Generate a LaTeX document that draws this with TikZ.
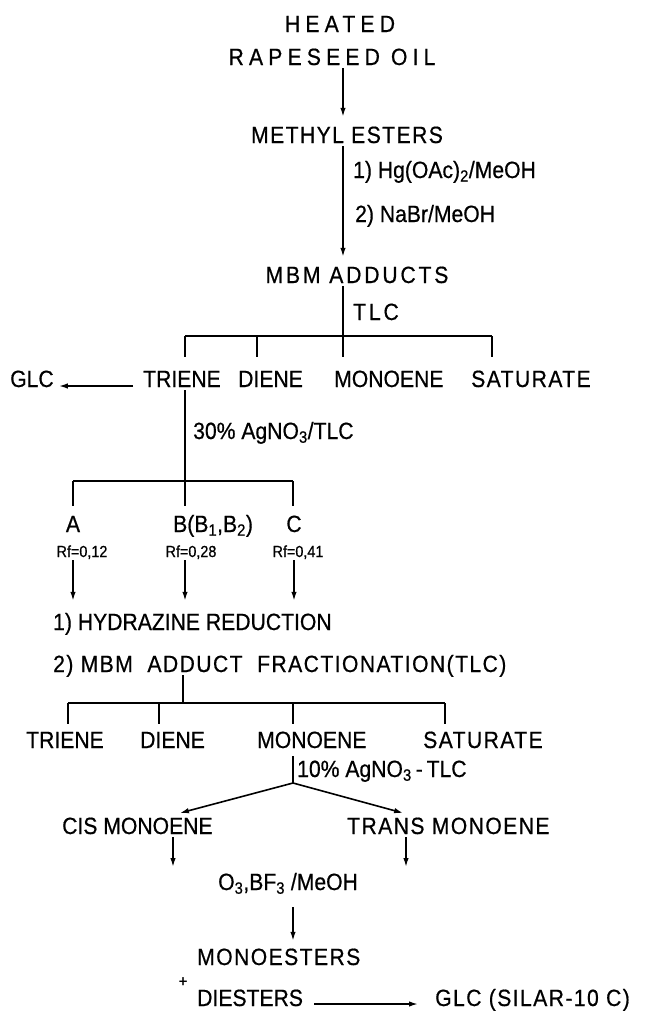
\documentclass[tikz,border=0pt]{standalone}
\usepackage{fontspec}
\setmainfont{Liberation Sans}[FakeStretch=0.9, FakeBold=0.6]
\newfontfamily\widefont{Liberation Sans}[FakeStretch=0.9, FakeBold=0.6, LetterSpace=22]
\newfontfamily\halfwidefont{Liberation Sans}[FakeStretch=0.9, FakeBold=0.6, LetterSpace=12]
\newfontfamily\loosefont{Liberation Sans}[FakeStretch=0.9, FakeBold=0.6, LetterSpace=6]
\usetikzlibrary{arrows.meta}

\begin{document}
\begin{tikzpicture}[x=1pt, y=-1pt]
      %% Styles for labels and lines
      \tikzset
      {
      lbl/.style={inner sep=3pt, text height=17pt, text depth=0pt, font=\fontsize{23.5}{28}\selectfont},
      wide lbl/.style={lbl, font=\widefont\fontsize{23.5}{28}\selectfont},
      half lbl/.style={lbl, font=\halfwidefont\fontsize{23.5}{28}\selectfont},
      loose lbl/.style={lbl, font=\loosefont\fontsize{23.5}{28}\selectfont},
      rf/.style={lbl, text height=11.5pt, font=\fontsize{16}{18}\selectfont},
      line/.style={line width=1.6pt},
      arr/.style={line, -{Latex[length=9pt,width=5.5pt]}, shorten >=6pt},
      tick/.style={line, shorten >=10pt},
      }
      \useasboundingbox (0,0) rectangle (653,1012);
      %% Oil and esters
      \node[wide lbl, anchor=base] (heat) at (340,32) {HEATED};
      \node[wide lbl, anchor=base] (rap) at (332,65) {RAPESEED OIL};
      \node[loose lbl, anchor=base] (meth) at (347,143) {METHYL ESTERS};
      \node[lbl, anchor=base west] (hg) at (350,178) {1) Hg(OAc)\textsubscript{2}/MeOH};
      \node[lbl, anchor=base west] (nabr) at (352,222) {2) NaBr/MeOH};
      \node[half lbl, anchor=base] (mbm) at (357,283) {MBM ADDUCTS};
      \node[half lbl, anchor=base west] (tlc1) at (350,320) {TLC};
      %% First fractions
      \node[lbl, anchor=base west] (glc1) at (7,387) {GLC};
      \node[lbl, anchor=base west] (tri1) at (140,387) {TRIENE};
      \node[lbl, anchor=base west] (die1) at (235,387) {DIENE};
      \node[lbl, anchor=base west] (mon1) at (331,387) {MONOENE};
      \node[loose lbl, anchor=base west] (sat1) at (468,387) {SATURATE};
      \node[lbl, anchor=base west] (ag30) at (190,439) {30\% AgNO\textsubscript{3}/TLC};
      %% Silver nitrate bands
      \node[lbl, anchor=base] (fa) at (73,532) {A};
      \node[lbl, anchor=base west] (fb) at (170,532) {B(B\textsubscript{1},B\textsubscript{2})};
      \node[lbl, anchor=base] (fc) at (294,532) {C};
      \node[rf, anchor=base] (rfa) at (82,557) {Rf=0,12};
      \node[rf, anchor=base] (rfb) at (191,557) {Rf=0,28};
      \node[rf, anchor=base] (rfc) at (298,557) {Rf=0,41};
      \node[lbl, anchor=base west] (hyd) at (50,630) {1) HYDRAZINE REDUCTION};
      \node[loose lbl, anchor=base west] (frac) at (50,672) {2) MBM~~ADDUCT~~FRACTIONATION(TLC)};
      %% Second fractions
      \node[lbl, anchor=base west] (tri2) at (23,748) {TRIENE};
      \node[lbl, anchor=base west] (die2) at (137,748) {DIENE};
      \node[lbl, anchor=base west] (mon2) at (254,748) {MONOENE};
      \node[loose lbl, anchor=base west] (sat2) at (420,748) {SATURATE};
      \node[lbl, anchor=base west] (ag10) at (294,777) {10\% AgNO\textsubscript{3}\,-\,TLC};
      \node[lbl, anchor=base west] (cis) at (59,834) {CIS MONOENE};
      \node[loose lbl, anchor=base west] (trans) at (344,834) {TRANS MONOENE};
      %% Ozonolysis
      \node[lbl, anchor=base west] (ozo) at (215,890) {O\textsubscript{3},BF\textsubscript{3} /MeOH};
      \node[loose lbl, anchor=base west] (mest) at (194,965) {MONOESTERS};
      \node[lbl, font=\fontsize{16}{18}\selectfont] (plus) at (183,978) {+};
      \node[lbl, anchor=base west] (dies) at (194,1006) {DIESTERS};
      \node[loose lbl, anchor=base west] (glc2) at (432,1006) {GLC (SILAR-10 C)};
      %% Junctions
      \coordinate (j0) at (343,0);
      \coordinate (j1) at (343,336);
      \coordinate (k1a) at (185,336);
      \coordinate (k1b) at (257,336);
      \coordinate (k1d) at (492,336);
      \coordinate (j2) at (185,481);
      \coordinate (k2a) at (73,481);
      \coordinate (k2c) at (293,481);
      \coordinate (j3) at (183,703);
      \coordinate (k3a) at (68,703);
      \coordinate (k3b) at (159,703);
      \coordinate (k3c) at (293,703);
      \coordinate (k3d) at (445,703);
      \coordinate (apex) at (293,783);
      \coordinate (cisx) at (177,0);
      \coordinate (transx) at (406,0);
      \coordinate (cend) at (173,867);
      \coordinate (tend) at (406,867);
      %% Arrows down the main line
      \draw[arr] (rap.south -| j0) -- (meth.north -| j0);
      \draw[arr] (meth.south -| j0) -- (mbm.north -| j0);
      %% TLC bracket
      \draw[line] (mbm.south -| j1) -- (j1) (k1a) -- (k1d);
      \draw[tick] (j1) -- (j1 |- mon1.north);
      \draw[tick] (k1a) -- (k1a |- tri1.north);
      \draw[tick] (k1b) -- (k1b |- die1.north);
      \draw[tick] (k1d) -- (k1d |- sat1.north);
      \draw[arr, shorten <=7pt, shorten >=2pt] ([yshift=1pt]tri1.base west) -- ([yshift=1pt]glc1.base east);
      %% Silver nitrate bracket
      \draw[line] (tri1.south -| j2) -- (j2) (k2a) -- (k2c);
      \draw[line, shorten >=6pt] (j2) -- (j2 |- fb.north);
      \draw[line, shorten >=6pt] (k2a) -- (fa.north);
      \draw[line, shorten >=6pt] (k2c) -- (k2c |- fc.north);
      \draw[arr, shorten >=9pt] (rfa.south -| fa) -- (hyd.north -| fa);
      \draw[arr, shorten >=9pt] (rfb.south -| j2) -- (hyd.north -| j2);
      \draw[arr, shorten >=9pt] (rfc.south -| fc) -- (hyd.north -| fc);
      %% Fractionation bracket
      \draw[line] (frac.south -| j3) -- (j3) (k3a) -- (k3d);
      \draw[line, shorten >=4pt] (k3a) -- (k3a |- tri2.north);
      \draw[line, shorten >=4pt] (k3b) -- (k3b |- die2.north);
      \draw[line, shorten >=4pt] (k3c) -- (k3c |- mon2.north);
      \draw[line, shorten >=4pt] (k3d) -- (k3d |- sat2.north);
      %% Cis and trans split
      \draw[line, shorten <=5pt] (mon2.south -| apex) -- (apex);
      \draw[arr, shorten >=3pt] (apex) -- (cis.north -| cisx);
      \draw[arr, shorten >=3pt] (apex) -- (trans.north -| transx);
      \draw[arr, shorten >=0pt] (cend |- cis.south) -- (cend);
      \draw[arr, shorten >=0pt] (tend |- trans.south) -- (tend);
      %% Ozonolysis and GLC
      \draw[arr, shorten <=14pt, shorten >=4pt] (ozo.south -| apex) -- (mest.north -| apex);
      \draw[arr, shorten <=8pt, shorten >=14pt] ([yshift=2pt]dies.base east) -- ([yshift=2pt]glc2.base west);
\end{tikzpicture}
\end{document}
